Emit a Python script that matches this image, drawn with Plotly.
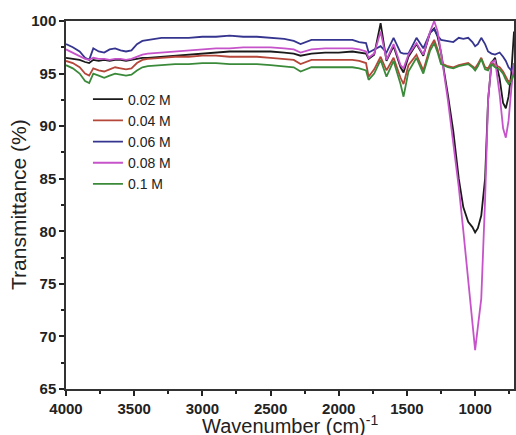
import plotly.graph_objects as go

wavenumber = [4000, 3950, 3900, 3860, 3830, 3800, 3760, 3720, 3680, 3640,
              3600, 3560, 3520, 3480, 3440, 3400, 3300, 3200, 3100, 3000,
              2900, 2800, 2700, 2600, 2500, 2400, 2330, 2280, 2200, 2100,
              2000, 1900, 1850, 1800, 1781, 1740, 1693, 1650, 1598, 1547,
              1525, 1489, 1430, 1380, 1330, 1300, 1275, 1250, 1200, 1160,
              1120, 1087, 1051, 1020, 1000, 980, 955, 927, 905, 880,
              854, 820, 795, 775, 755, 735, 715]

t_002 = [96.5, 96.4, 96.3, 96.1, 96.0, 96.3, 96.2, 96.3, 96.2, 96.3,
         96.3, 96.2, 96.3, 96.4, 96.5, 96.5, 96.6, 96.7, 96.8, 96.9,
         97.0, 97.1, 97.1, 97.1, 97.1, 97.0, 96.9, 96.7, 96.9, 97.0,
         97.0, 97.1, 97.0, 96.9, 96.4, 96.8, 99.8, 96.2, 97.6, 95.6,
         95.1, 96.6, 97.8, 96.7, 98.9, 99.3, 98.5, 97.0, 93.0, 89.5,
         85.0, 82.3, 80.9, 80.4, 79.9, 80.3, 81.5, 85.0, 92.5, 96.0,
         96.5, 94.5, 92.2, 91.7, 92.8, 95.0, 99.0]

t_004 = [96.2, 96.0, 95.6, 95.0, 94.8, 95.5, 95.3, 95.2, 95.4, 95.6,
         95.5, 95.4, 95.5, 96.0, 96.3, 96.4, 96.5, 96.6, 96.6, 96.7,
         96.7, 96.6, 96.6, 96.6, 96.5, 96.4, 96.3, 95.9, 96.3, 96.3,
         96.3, 96.3, 96.2, 96.0, 94.7, 95.4, 96.6, 95.3, 96.5, 94.6,
         94.0, 95.8, 96.8, 95.3, 97.5, 98.2, 97.3, 96.0, 95.7, 95.6,
         95.8, 95.9, 96.0, 95.7, 95.5, 95.9, 96.5, 95.6, 95.5, 96.1,
         95.8, 95.6, 95.2, 94.7, 94.2, 94.4, 95.3]

t_006 = [97.8, 97.5, 97.1, 96.5, 96.3, 97.4, 97.1, 97.0, 97.3, 97.4,
         97.2, 97.1, 97.2, 97.8, 98.1, 98.2, 98.4, 98.4, 98.4, 98.5,
         98.5, 98.6, 98.5, 98.5, 98.4, 98.3, 98.1, 97.8, 98.2, 98.2,
         98.2, 98.2, 98.0, 97.9, 97.0, 97.3, 97.6, 97.0, 98.4, 97.0,
         96.9, 96.9, 98.4, 97.4, 98.9, 99.2, 98.6, 98.2, 98.1, 98.0,
         98.4, 98.3, 98.4, 98.0, 97.6, 97.8, 98.4, 97.8, 97.1, 96.9,
         96.8, 97.0, 96.6, 96.2, 95.6, 95.3, 95.8]

t_008 = [97.3, 97.0, 96.7, 96.4, 96.3, 96.5, 96.4, 96.4, 96.3, 96.4,
         96.4, 96.3, 96.4, 96.6, 96.8, 96.9, 97.0, 97.1, 97.2, 97.3,
         97.4, 97.4, 97.5, 97.5, 97.5, 97.4, 97.3, 97.0, 97.3, 97.4,
         97.4, 97.4, 97.3, 97.1, 96.5, 96.9, 99.0, 96.3, 97.8, 95.8,
         95.5, 96.8, 97.9, 96.8, 99.0, 100.0, 99.0, 97.0, 92.5, 88.5,
         84.2, 80.1, 75.5, 71.4, 68.7, 70.9, 73.6, 83.0, 92.5, 96.0,
         96.3, 93.0, 89.8, 88.9, 90.5, 93.5, 96.0]

t_01 = [95.8, 95.5, 95.0, 94.3, 94.1, 95.0, 94.8, 94.6, 94.8, 95.0,
        94.9, 94.8, 94.9, 95.3, 95.6, 95.7, 95.8, 95.9, 95.9, 96.0,
        96.0, 95.9, 95.9, 95.9, 95.8, 95.7, 95.6, 95.2, 95.6, 95.6,
        95.6, 95.6, 95.5, 95.3, 94.4, 95.0, 96.3, 94.7, 96.2, 94.0,
        92.8, 95.2, 96.5, 95.0, 97.2, 97.9, 97.0, 95.9, 95.6, 95.5,
        95.7, 95.8, 95.9, 95.6, 95.3, 95.7, 96.4, 95.4, 95.3, 95.9,
        95.6, 95.4, 95.0, 94.4, 94.0, 94.3, 95.0]

series_names = ["0.02 M", "0.04 M", "0.06 M", "0.08 M", "0.1 M"]
series_values = [t_002, t_004, t_006, t_008, t_01]
series_colors = ["#1a1a1a", "#b5473a", "#35358f", "#c653c9", "#3a8a3a"]

x_tickvals = [4000, 3500, 3000, 2500, 2000, 1500, 1000]
y_tickvals = [65, 70, 75, 80, 85, 90, 95, 100]

fig = go.Figure()
for name, vals, col in zip(series_names, series_values, series_colors):
    fig.add_trace(go.Scatter(x=wavenumber, y=vals, mode="lines", name=name,
                             line=dict(color=col, width=1.8)))

font_fam = "Arial, Liberation Sans, sans-serif"
fig.update_layout(
    width=516, height=435,
    margin=dict(l=66, r=0, t=21, b=46),
    paper_bgcolor="white", plot_bgcolor="white",
    showlegend=True,
    legend=dict(x=0.049, y=0.83, xanchor="left", yanchor="top",
                bgcolor="rgba(0,0,0,0)", font=dict(family=font_fam, size=14, color="#222"),
                tracegroupgap=0, itemwidth=30),
    xaxis=dict(range=[4000, 715], tickvals=x_tickvals, ticks="outside", ticklen=5,
               tickwidth=1.5, tickcolor="#222", showline=True, linecolor="#333",
               linewidth=1.5, mirror=True, showgrid=False, zeroline=False,
               tickfont=dict(family=font_fam, size=15, color="#222", weight="bold"),
               minor=dict(dtick=250, ticks="outside", ticklen=3, tickcolor="#222", showgrid=False)),
    yaxis=dict(range=[65, 100], tickvals=y_tickvals, ticks="outside", ticklen=5,
               tickwidth=1.5, tickcolor="#222", showline=True, linecolor="#333",
               linewidth=1.5, mirror=True, showgrid=False, zeroline=False,
               tickfont=dict(family=font_fam, size=15, color="#222", weight="bold"),
               minor=dict(dtick=2.5, ticks="outside", ticklen=3, tickcolor="#222", showgrid=False)),
)

fig.add_annotation(text="Wavenumber (cm)<sup>-1</sup>", xref="paper", yref="paper",
                   x=0.5, y=-0.0, yshift=-35, xanchor="center", yanchor="middle",
                   showarrow=False, font=dict(family=font_fam, size=20, color="#222"))
fig.add_annotation(text="Transmittance (%)", xref="paper", yref="paper",
                   x=0, y=0.5, xshift=-48, xanchor="center", yanchor="middle",
                   textangle=-90, showarrow=False,
                   font=dict(family=font_fam, size=21, color="#222"))

fig.write_html("out.html")
